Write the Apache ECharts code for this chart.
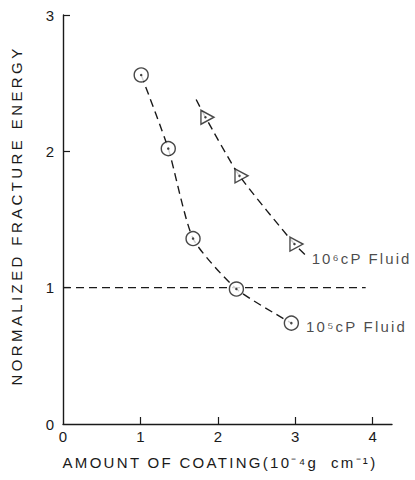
<!DOCTYPE html>
<html>
<head>
<meta charset="utf-8">
<script src="https://cdn.jsdelivr.net/npm/echarts@6/dist/echarts.min.js"></script>
<style>
  html, body { margin: 0; padding: 0; background: #fff; }
  #chart { width: 415px; height: 480px; }
</style>
</head>
<body>
<div id="chart"></div>
<script>
const xTicks = [0, 1, 2, 3, 4]
const yTicks = [0, 1, 2, 3]

const fluid5Points = [[1.01, 2.56], [1.36, 2.02], [1.68, 1.36], [2.24, 0.99], [2.95, 0.74]]
const fluid6Points = [[1.84, 2.25], [2.28, 1.82], [2.99, 1.32]]
// the dashed fit for the 10^6 fluid runs a little past both end points
const fluid6Curve = [[1.72, 2.38], [1.84, 2.25], [2.28, 1.82], [2.99, 1.32], [3.15, 1.23]]
const referenceLine = [[0, 1], [3.91, 1]]

const yName = 'NORMALIZED FRACTURE ENERGY'
const xName = 'AMOUNT OF COATING(10⁻⁴g  cm⁻¹)'
const fluid5Label = '10⁵cP Fluid'
const fluid6Label = '10⁶cP Fluid'

const ink = '#1a1a1a'
const font = 'Liberation Sans'
const dash = [8, 5]

const textStyle = { fontFamily: font, fontSize: 15, color: ink }

const lastWithLabel = (points, text, offset, distance) => points.map((p, i) => {
  if (i !== points.length - 1) return p
  return {
    value: p,
    label: { show: true, position: 'right', distance, offset, formatter: text, ...textStyle },
  }
})

const dashedCurve = (data, smooth) => ({
  type: 'line',
  data,
  smooth,
  showSymbol: false,
  silent: true,
  lineStyle: { color: ink, width: 1.4, type: dash },
  z: 2,
})

const option = {
  animation: false,
  backgroundColor: '#fff',
  grid: { left: 63, right: 23, top: 15, bottom: 56 },
  xAxis: {
    type: 'value',
    min: 0,
    max: 4.25,
    interval: 1,
    name: xName,
    nameLocation: 'middle',
    nameGap: 31,
    nameTextStyle: { ...textStyle, padding: [0, 15, 0, 0] },
    axisLine: { lineStyle: { color: ink, width: 1.4 } },
    axisTick: { inside: true, length: 7, customValues: [1, 2, 3, 4], lineStyle: { color: ink, width: 1.2 } },
    axisLabel: { customValues: xTicks, margin: 5, ...textStyle },
    splitLine: { show: false },
  },
  yAxis: {
    type: 'value',
    min: 0,
    max: 3,
    interval: 1,
    name: yName,
    nameLocation: 'middle',
    nameGap: 39,
    nameTextStyle: { ...textStyle, padding: [0, 0, 0, 8] },
    axisLine: { lineStyle: { color: ink, width: 1.4 } },
    axisTick: { inside: true, length: 7, customValues: [1, 2, 3], lineStyle: { color: ink, width: 1.2 } },
    axisLabel: { customValues: yTicks, margin: 9, ...textStyle },
    splitLine: { show: false },
  },
  series: [
    dashedCurve(referenceLine, false),
    dashedCurve(fluid5Points, 0.2),
    dashedCurve(fluid6Curve, 0.2),
    {
      type: 'scatter',
      data: lastWithLabel(fluid5Points, fluid5Label, [0, 3], 7),
      symbol: 'circle',
      symbolSize: 14,
      itemStyle: { color: '#fff', borderColor: ink, borderWidth: 1.4 },
      silent: true,
      z: 3,
    },
    {
      type: 'scatter',
      data: lastWithLabel(fluid6Points, fluid6Label, [0, 14], 8),
      symbol: 'path://M0 0L13 7L0 14Z',
      symbolSize: [13, 14],
      symbolOffset: [2, 0],
      itemStyle: { color: '#fff', borderColor: ink, borderWidth: 1.4 },
      silent: true,
      z: 3,
    },
    {
      type: 'scatter',
      data: fluid5Points.concat(fluid6Points),
      symbol: 'circle',
      symbolSize: 2.5,
      itemStyle: { color: ink },
      silent: true,
      z: 4,
    },
  ],
}

const chart = echarts.init(document.getElementById('chart'), null, { renderer: 'svg' })
chart.setOption(option)

// the original lettering is spaced out wider than the font
const spacing = { [yName]: 3.4, [xName]: 2.3, [fluid5Label]: 2.2, [fluid6Label]: 2.1 }
chart.getDom().querySelectorAll('text').forEach(el => {
  const s = spacing[el.textContent]
  if (s) el.setAttribute('letter-spacing', s)
})
</script>
</body>
</html>
